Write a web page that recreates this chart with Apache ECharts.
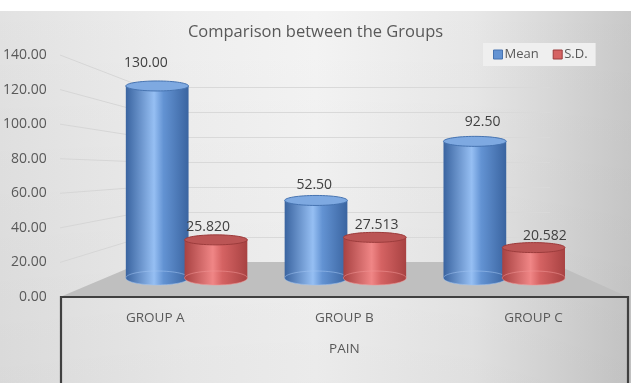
<!DOCTYPE html>
<html>
<head>
<meta charset="utf-8">
<script src="https://cdn.jsdelivr.net/npm/echarts@6/dist/echarts.min.js"></script>
<style>
  html, body { margin: 0; padding: 0; background: #fff; }
  #chart {
    width: 631px; height: 383px;
    background:
      linear-gradient(#ffffff, #ffffff) top left / 100% 11px no-repeat,
      linear-gradient(to bottom, rgba(0,0,0,0) 0%, rgba(0,0,0,0.04) 100%),
      linear-gradient(to right, #e2e2e2 0%, #efefef 30%, #f4f4f4 50%, #e8e8e8 75%, #c9c9c9 100%);
  }
</style>
</head>
<body>
<div id="chart"></div>
<script>
// ---- data ----
const categories = ['GROUP A', 'GROUP B', 'GROUP C'];
const meanValues = [130.00, 52.50, 92.50];
const sdValues = [25.820, 27.513, 20.582];
const seriesNames = ['Mean', 'S.D.'];
const labelDecimals = [2, 3];
const yTicks = [0, 20, 40, 60, 80, 100, 120, 140];
const axisTitle = 'PAIN';
const chartTitle = 'Comparison between the Groups';

// ---- look ----
const FONT = '"Open Sans", "Liberation Sans", sans-serif';
const TEXT = '#595959';
const palette = [
  { dark: '#3a64a0', mid: '#6393d3', light: '#96bff3', top: '#7ea9e1', rim: '#4673b0', base: 'rgba(160,195,240,0.55)' },
  { dark: '#a84242', mid: '#d56363', light: '#f08686', top: '#bb5555', rim: '#9c3c3c', base: 'rgba(240,150,150,0.55)' }
];

// three planes of the 3-D box: front (labels), back wall (gridlines), bar plane
const front = { left: 60, right: 3, top: 55, bottom: 86 };
const back = { left: 143, right: 81, top: 87, bottom: 121 };
const bars = { left: 107, right: 47.5, top: 71.2, bottom: 105 };

const yMin = yTicks[0], yMax = yTicks[yTicks.length - 1], yStep = yTicks[1] - yTicks[0];

function cylinderRenderer(seriesIndex) {
  const col = palette[seriesIndex];
  const shift = seriesIndex === 0 ? -0.184 : 0.186;
  return function (params, api) {
    const idx = api.value(0);
    const v = api.value(1);
    const topPt = api.coord([idx, v]);
    const basePt = api.coord([idx, 0]);
    const mid = api.coord([1, 0])[0];
    const band = api.size([1, 0])[0];
    const w = band * 0.395;
    const cx = topPt[0] + shift * band;
    const x0 = cx - w / 2;
    const ryTop = 5, ryBase = 7;
    const bodyFill = new echarts.graphic.LinearGradient(0, 0, 1, 0, [
      { offset: 0, color: col.dark },
      { offset: 0.45, color: col.light },
      { offset: 0.6, color: col.mid },
      { offset: 1, color: col.dark }
    ]);
    const text = v.toFixed(labelDecimals[seriesIndex]);
    return {
      type: 'group',
      children: [
        { type: 'ellipse', shape: { cx: cx, cy: basePt[1], rx: w / 2, ry: ryBase },
          style: { fill: bodyFill } },
        { type: 'rect', shape: { x: x0, y: topPt[1], width: w, height: basePt[1] - topPt[1] },
          style: { fill: bodyFill } },
        { type: 'ellipse', shape: { cx: cx, cy: basePt[1], rx: w / 2, ry: ryBase },
          style: { fill: 'none', stroke: col.base, lineWidth: 1 } },
        { type: 'ellipse', shape: { cx: cx, cy: topPt[1], rx: w / 2, ry: ryTop },
          style: { fill: col.top, stroke: col.rim, lineWidth: 1 } },
        { type: 'text',
          x: cx + (cx - mid) * 0.06,
          y: topPt[1] - (10 + v * 0.1),
          style: { text: text, fill: '#404040', font: '14px ' + FONT, align: 'center', verticalAlign: 'middle' } }
      ]
    };
  };
}

const chart = echarts.init(document.getElementById('chart'), null, { renderer: 'canvas' });

const option = {
  backgroundColor: 'transparent',
  animation: false,
  title: {
    text: chartTitle, left: 'center', top: 19,
    textStyle: { fontFamily: FONT, fontSize: 16.5, fontWeight: 'normal', color: TEXT }
  },
  legend: {
    left: 483, top: 43,
    padding: [5, 8, 5, 10],
    backgroundColor: '#efefef',
    itemWidth: 9, itemHeight: 9, itemGap: 14, icon: 'rect',
    textStyle: { fontFamily: FONT, fontSize: 13, color: TEXT, padding: [0, 0, 0, -3] },
    data: seriesNames.map((n, i) => ({ name: n, itemStyle: { color: palette[i].mid, borderColor: palette[i].rim, borderWidth: 1 } }))
  },
  grid: [
    Object.assign({ containLabel: false }, front),
    Object.assign({ containLabel: false }, back),
    Object.assign({ containLabel: false }, bars)
  ],
  xAxis: [
    { gridIndex: 0, type: 'category', data: categories, z: 10,
      axisLine: { show: false }, axisTick: { show: false },
      axisLabel: { margin: 14, fontFamily: FONT, fontSize: 13.5, color: TEXT },
      name: axisTitle, nameLocation: 'middle', nameGap: 45,
      nameTextStyle: { fontFamily: FONT, fontSize: 13.5, color: TEXT } },
    { gridIndex: 1, type: 'category', data: categories, show: false },
    { gridIndex: 2, type: 'category', data: categories, show: false }
  ],
  yAxis: [
    { gridIndex: 0, type: 'value', min: yMin, max: yMax, interval: yStep,
      axisLine: { show: false }, axisTick: { show: false }, splitLine: { show: false },
      axisLabel: { margin: 14, fontFamily: FONT, fontSize: 14, color: TEXT, formatter: v => v.toFixed(2) } },
    { gridIndex: 1, type: 'value', min: yMin, max: yMax, interval: yStep,
      axisLine: { show: false }, axisTick: { show: false }, axisLabel: { show: false },
      splitLine: { show: true, lineStyle: { color: '#d9d9d9', width: 1 } } },
    { gridIndex: 2, type: 'value', min: yMin, max: yMax, show: false }
  ],
  series: [
    { name: seriesNames[0], type: 'custom', xAxisIndex: 2, yAxisIndex: 2, z: 3,
      itemStyle: { color: palette[0].mid },
      renderItem: cylinderRenderer(0),
      data: meanValues.map((v, i) => [i, v]) },
    { name: seriesNames[1], type: 'custom', xAxisIndex: 2, yAxisIndex: 2, z: 3,
      itemStyle: { color: palette[1].mid },
      renderItem: cylinderRenderer(1),
      data: sdValues.map((v, i) => [i, v]) }
  ]
};
chart.setOption(option);

// side wall, floor and front panel of the box, placed from the axis scales
const W = 631, H = 383;
const yF = v => chart.convertToPixel({ yAxisIndex: 0 }, v);
const yB = v => chart.convertToPixel({ yAxisIndex: 1 }, v);
const fl = front.left, fr = W - front.right, bl = back.left, br = W - back.right;
const elements = [];
yTicks.slice(1).forEach(t => {
  elements.push({ type: 'line', z: 0, silent: true,
    shape: { x1: fl, y1: yF(t), x2: bl, y2: yB(t) },
    style: { stroke: '#d6d6d6', lineWidth: 1 } });
});
elements.push({ type: 'polygon', z: 1, silent: true,
  shape: { points: [[fl, yF(0)], [bl, yB(0)], [br, yB(0)], [fr, yF(0)]] },
  style: { fill: '#bfbfbf' } });
elements.push({ type: 'rect', z: 1, silent: true,
  shape: { x: fl + 1, y: yF(0), width: fr - fl - 1, height: H - yF(0) + 10 },
  style: { fill: 'rgba(0,0,0,0)', stroke: '#404040', lineWidth: 2.2 } });
chart.setOption({ graphic: elements });
</script>
</body>
</html>
